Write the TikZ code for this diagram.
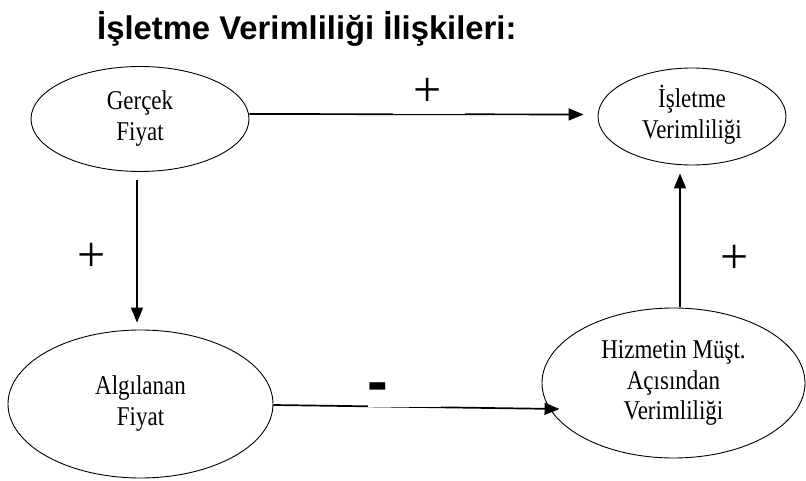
\documentclass[tikz,border=0pt]{standalone}
\usepackage{fontspec}
\setmainfont{Liberation Serif}
\newfontfamily\arialfont{Liberation Sans}
\usetikzlibrary{shapes.geometric,arrows.meta,calc}
\newcommand\talltext[1]{\scalebox{1}[1.18]{\fontsize{23}{26}\selectfont\begin{tabular}{@{}c@{}}#1\end{tabular}}}
\tikzset{
  oval/.style={draw,ellipse,line width=0.9pt,inner sep=0pt},
  arr/.style={line width=1.7pt,-{Triangle[length=15pt,width=12pt]}},
  sign/.style={inner sep=0pt,font=\fontsize{50}{50}\selectfont},
}
\begin{document}
\begin{tikzpicture}[x=1pt,y=-1pt]
\useasboundingbox (0,0) rectangle (806,481);
\node[anchor=base west,inner sep=0pt,font=\arialfont\bfseries\fontsize{32.8}{32.8}\selectfont] (title) at (97,40) {İşletme Verimliliği İlişkileri:};
\node[oval,minimum width=218pt,minimum height=105pt] (g) at (140,119) {\talltext{Gerçek\\Fiyat}};
\node[oval,minimum width=188pt,minimum height=97pt] (i) at (692,116.5) {\talltext{İşletme\\Verimliliği}};
\node[oval,minimum width=265pt,minimum height=148pt] (a) at (140.5,404) {\talltext{Algılanan\\Fiyat}};
\node[oval,minimum width=263pt,minimum height=150pt] (h) at (673.5,383) {\talltext{Hizmetin Müşt.\\Açısından\\Verimliliği}};
\coordinate (htip) at ($(h.west)+(18,26)$);
\draw[arr,shorten >=14pt] ([yshift=5pt]g.east) -- ([yshift=2pt]i.west);
\draw[arr,shorten <=8pt,shorten >=7pt] ([xshift=-3pt]g.south) -- ([xshift=-3.5pt]a.north);
\draw[arr,shorten <=1pt,shorten >=8pt] ([xshift=6.5pt]h.north) -- ([xshift=-12pt]i.south);
\draw[arr] ([yshift=-1pt]a.east) -- (htip);
\fill[white] (393,113.0) rectangle (465,114.1);
\fill[white] (368,405.4) rectangle (441,406.6);
\node[sign] (p1) at (428,92) {+};
\node[sign] (p2) at (92,257) {+};
\node[sign] (p3) at (735,259) {+};
\node[inner sep=0pt,font=\arialfont\bfseries\fontsize{62}{62}\selectfont] (m1) at (378,393) {-};
\end{tikzpicture}
\end{document}
